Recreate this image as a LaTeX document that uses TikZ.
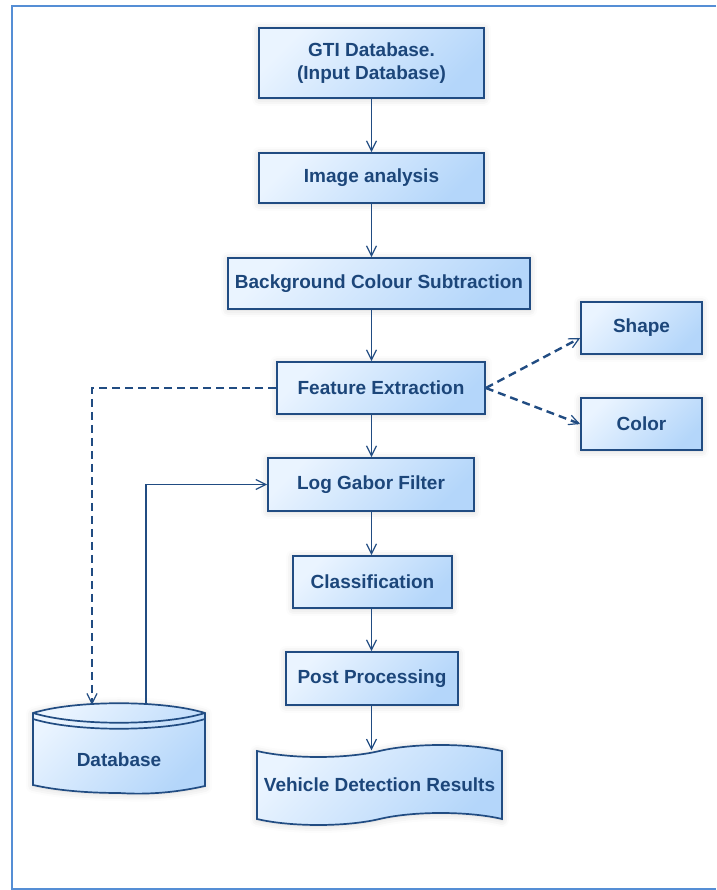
\documentclass[tikz,border=0pt]{standalone}
\usepackage{fontspec}
\setmainfont{Liberation Sans}
\usetikzlibrary{arrows.meta,shapes.symbols,shadows.blur}

\begin{document}
\begin{tikzpicture}[x=1pt,y=1pt,
  box/.style={draw=lineColor,line width=1.7pt,top color=fillTop,bottom color=fillBot,shading angle=45,
    text=textColor,font=\fontsize{19}{23.3}\selectfont\bfseries,align=center,inner sep=0pt,
    blur shadow={shadow xshift=0pt,shadow yshift=-1pt,shadow blur radius=7pt,shadow opacity=18}},
  dbshape/.style={draw=lineColor,line width=1.7pt,top color=fillTop,bottom color=fillBot,shading angle=45,
    blur shadow={shadow xshift=0pt,shadow yshift=-1pt,shadow blur radius=7pt,shadow opacity=18}},
  dbline/.style={draw=lineColor,line width=1.7pt},
  label/.style={text=textColor,font=\fontsize{19}{23.3}\selectfont\bfseries,inner sep=0pt},
  link/.style={draw=lineColor,line width=1.6pt,-{Straight Barb[length=10pt,width=10pt,line width=1.2pt]}},
  dlink/.style={link,line width=2.4pt,dash pattern=on 8pt off 5pt},
  frame/.style={draw=frameColor,line width=2pt}]
\definecolor{lineColor}{RGB}{33,76,130}
\definecolor{textColor}{RGB}{28,70,122}
\definecolor{fillTop}{RGB}{234,244,255}
\definecolor{fillBot}{RGB}{180,214,250}
\definecolor{frameColor}{RGB}{85,142,213}
\path[use as bounding box] (0,0) rectangle (716,890);

\draw[frame] (716,884) -- (12,884) -- (12,1) -- (716,1);

\node[box,minimum width=225pt,minimum height=70pt] (gti) at (371.5,827) {GTI Database.\\(Input Database)};

\node[box,minimum width=225pt,minimum height=50pt] (img) at (371.5,712) {Image analysis};

\node[box,minimum width=302pt,minimum height=51pt] (bg) at (379,606.5) {Background Colour Subtraction};

\node[box,minimum width=208pt,minimum height=52pt] (fe) at (381,502) {Feature Extraction};

\node[box,minimum width=121pt,minimum height=52pt] (shp) at (641.5,562) {Shape};

\node[box,minimum width=121pt,minimum height=52pt] (clr) at (641.5,466) {Color};

\node[box,minimum width=206pt,minimum height=53pt] (lgf) at (371,405.5) {Log Gabor Filter};

\node[box,minimum width=159pt,minimum height=52pt] (cls) at (372.5,308) {Classification};

\node[box,minimum width=172pt,minimum height=53pt] (post) at (372,211.5) {Post Processing};

\node[box,tape,tape bend height=12pt,minimum width=245pt,minimum height=80pt] (vdr) at (379.5,105) {Vehicle Detection Results};

\path[dbshape] (33,177) .. controls (75,190) and (163,190) .. (205,177) -- (205,104)
  .. controls (165,95) and (135,96) .. (119,97) .. controls (85,97) and (55,100) .. (33,105) -- cycle;
\draw[dbline] (33,177) .. controls (75,164) and (163,164) .. (205,177);
\draw[dbline] (33,171) .. controls (75,158) and (163,158) .. (205,171);
\node[label,minimum width=172pt,minimum height=88pt] (db) at (119,141) {};
\node[label] (dbtext) at (119,130) {Database};

\draw[link] (gti.south) -- (img.north);
\draw[link] (img.south) -- (img.south |- bg.north);
\draw[link] (bg.south -| img.south) -- (fe.north -| img.south);
\draw[link] (fe.south -| img.south) -- (lgf.north -| img.south);
\draw[link] (lgf.south -| img.south) -- (cls.north -| img.south);
\draw[link] (cls.south -| img.south) -- (post.north -| img.south);
\draw[link] (post.south -| img.south) -- (vdr.north -| img.south);

\draw[dlink] (fe.east) -- ([yshift=-10pt]shp.west);
\draw[dlink] (fe.east) -- (clr.west);
\draw[dlink] (fe.west) -| ([xshift=-27pt]db.north);
\draw[link] ([xshift=27pt]db.north) |- (lgf.west);
\end{tikzpicture}
\end{document}
